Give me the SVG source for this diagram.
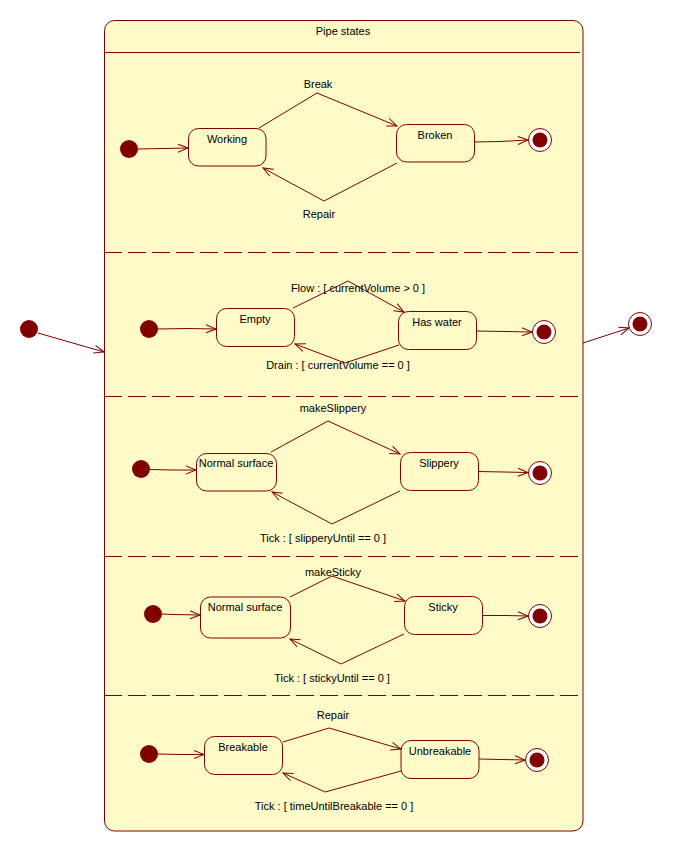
<svg xmlns="http://www.w3.org/2000/svg" width="673" height="852" viewBox="0 0 673 852">
<style>
  .box{fill:#FFFBC8;stroke:#800000;stroke-width:1}
  .st{fill:none;stroke:#800000;stroke-width:1}
  .dash{stroke:#800000;stroke-width:1.2;stroke-dasharray:18 6;fill:none}
  .init{fill:#800000;stroke:none}
  .fo{fill:#ffffff;stroke:#800000;stroke-width:1}
  .fi{fill:#800000}
  .ln{fill:none;stroke:#800000;stroke-width:1;marker-end:url(#arr)}
  text{font-family:"Liberation Sans",Arial,sans-serif;font-size:11px;fill:#000;text-anchor:middle}
</style>
<defs>
  <marker id="arr" markerUnits="userSpaceOnUse" viewBox="0 0 12 10" refX="11" refY="5" markerWidth="12" markerHeight="10" orient="auto">
    <path d="M1,1 L11,5 L1,9" fill="none" stroke="#800000" stroke-width="1"/>
  </marker>
</defs>
<rect width="673" height="852" fill="#ffffff"/>

<g id="pipe-states">
  <rect class="box" x="104.5" y="20.5" width="478.5" height="810.5" rx="10" ry="10"/>
  <line class="st" x1="104.5" y1="52.5" x2="580" y2="52.5"/>
  <text x="343" y="35">Pipe states</text>
  <line class="dash" x1="104" y1="252.5" x2="582" y2="252.5"/>
  <line class="dash" x1="104" y1="396.5" x2="582" y2="396.5"/>
  <line class="dash" x1="104" y1="556.5" x2="582" y2="556.5"/>
  <line class="dash" x1="104" y1="695.5" x2="582" y2="695.5"/>
</g>

<g id="outer-initial"><circle class="init" cx="29" cy="329" r="9"/></g>
<g id="outer-final"><circle class="fo" cx="640" cy="324" r="11.5"/><circle class="fi" cx="640" cy="324" r="7.5"/></g>

<!-- Region 1 -->
<g id="init1"><circle class="init" cx="129" cy="149" r="9"/></g>
<g id="working"><rect class="st" x="188.5" y="128.5" width="77.5" height="37.5" rx="10"/><text x="227" y="143">Working</text></g>
<g id="broken"><rect class="st" x="396.5" y="124.5" width="78" height="37.5" rx="10"/><text x="435" y="139">Broken</text></g>
<g id="final1"><circle class="fo" cx="540" cy="140" r="11.5"/><circle class="fi" cx="540" cy="140" r="7.5"/></g>

<!-- Region 2 -->
<g id="init2"><circle class="init" cx="149" cy="329" r="9"/></g>
<g id="empty"><rect class="st" x="216.5" y="308.5" width="78" height="38" rx="10"/><text x="255" y="323">Empty</text></g>
<g id="haswater"><rect class="st" x="398.5" y="311.5" width="78" height="38" rx="10"/><text x="437" y="326">Has water</text></g>
<g id="final2"><circle class="fo" cx="544" cy="332" r="11.5"/><circle class="fi" cx="544" cy="332" r="7.5"/></g>

<!-- Region 3 -->
<g id="init3"><circle class="init" cx="141" cy="469" r="9"/></g>
<g id="normal1"><rect class="st" x="196.5" y="453.5" width="80" height="37.5" rx="10"/><text x="236" y="467">Normal surface</text></g>
<g id="slippery"><rect class="st" x="400.5" y="452.5" width="78" height="38" rx="10"/><text x="439" y="467">Slippery</text></g>
<g id="final3"><circle class="fo" cx="540" cy="473" r="11.5"/><circle class="fi" cx="540" cy="473" r="7.5"/></g>

<!-- Region 4 -->
<g id="init4"><circle class="init" cx="153" cy="614" r="9"/></g>
<g id="normal2"><rect class="st" x="200.5" y="597" width="90" height="41" rx="10"/><text x="245" y="611">Normal surface</text></g>
<g id="sticky"><rect class="st" x="404.5" y="596.5" width="78" height="38" rx="10"/><text x="443" y="611">Sticky</text></g>
<g id="final4"><circle class="fo" cx="540" cy="616" r="11.5"/><circle class="fi" cx="540" cy="616" r="7.5"/></g>

<!-- Region 5 -->
<g id="init5"><circle class="init" cx="149" cy="754" r="9"/></g>
<g id="breakable"><rect class="st" x="204.5" y="736.5" width="78" height="38" rx="10"/><text x="243" y="751">Breakable</text></g>
<g id="unbreakable"><rect class="st" x="401" y="740.5" width="78" height="38" rx="10"/><text x="440" y="755">Unbreakable</text></g>
<g id="final5"><circle class="fo" cx="537" cy="760" r="11.5"/><circle class="fi" cx="537" cy="760" r="7.5"/></g>

<g id="connectors">
  <polyline class="ln" points="38,333 104,352"/>
  <polyline class="ln" points="583,343 629,328"/>

  <polyline class="ln" points="138,149 162,148.5 188,148"/>
  <polyline class="ln" points="259,128 317,93 397,126"/>
  <polyline class="ln" points="397,163 324,201 263,168"/>
  <polyline class="ln" points="474,142 500,141.5 528,140"/>
  <text x="318" y="88">Break</text>
  <text x="319" y="218">Repair</text>

  <polyline class="ln" points="158,329 187,328.5 216,329"/>
  <polyline class="ln" points="293,308 348,281 404,312"/>
  <polyline class="ln" points="399,345 345,363 295,344"/>
  <polyline class="ln" points="476,331 505,331.5 532,332"/>
  <text x="358" y="292">Flow : [ currentVolume &gt; 0 ]</text>
  <text x="338" y="369">Drain : [ currentVolume == 0 ]</text>

  <polyline class="ln" points="150,469.5 172,470 196,470"/>
  <polyline class="ln" points="271,452 328,421 400,454"/>
  <polyline class="ln" points="400,491 332,524 272,492"/>
  <polyline class="ln" points="478,471.5 504,472 528,472.5"/>
  <text x="333" y="412">makeSlippery</text>
  <text x="323" y="542">Tick : [ slipperyUntil == 0 ]</text>

  <polyline class="ln" points="162,614 173,614.5 200,615"/>
  <polyline class="ln" points="290,597 332,576 405,601"/>
  <polyline class="ln" points="404,634 341,664 290,639"/>
  <polyline class="ln" points="482,615.5 505,615.5 528,616"/>
  <text x="333" y="576">makeSticky</text>
  <text x="332" y="682">Tick : [ stickyUntil == 0 ]</text>

  <polyline class="ln" points="158,754 182,754.5 204,754.5"/>
  <polyline class="ln" points="283,742 329,728 401,749"/>
  <polyline class="ln" points="401,771 325,792 283,773"/>
  <polyline class="ln" points="479,759 502,759.5 525,760"/>
  <text x="333" y="719">Repair</text>
  <text x="334" y="810">Tick : [ timeUntilBreakable == 0 ]</text>
</g>
</svg>
